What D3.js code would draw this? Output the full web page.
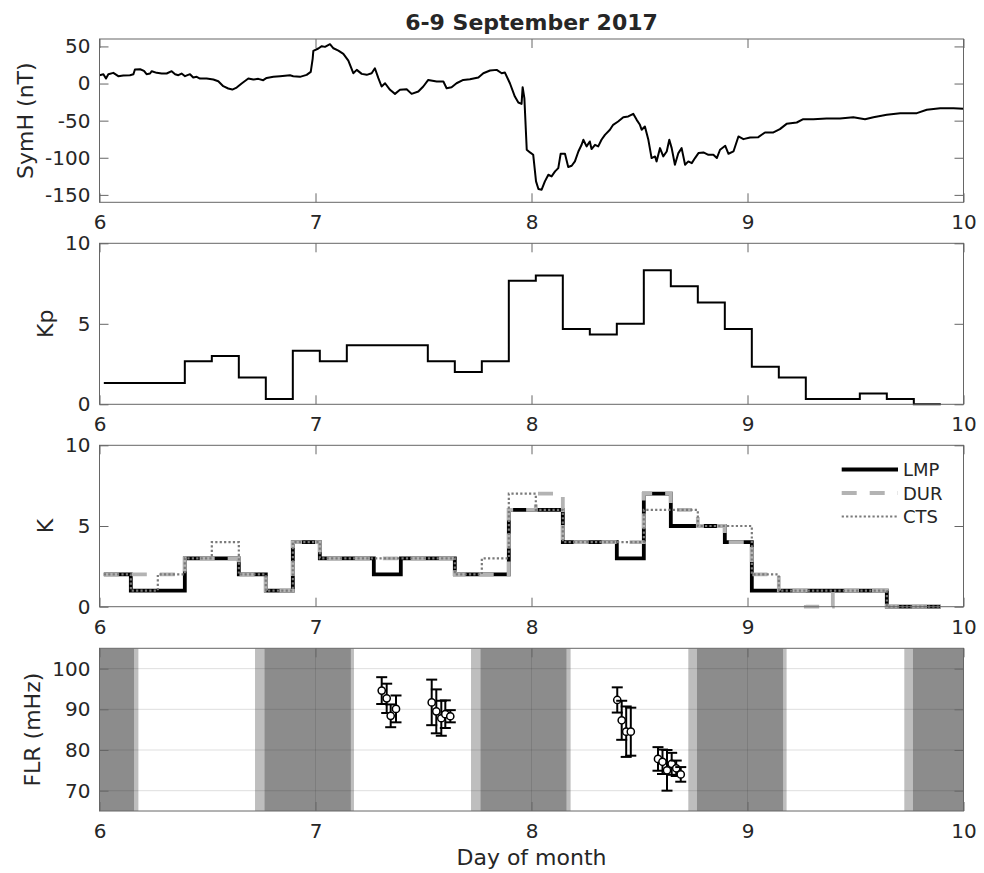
<!DOCTYPE html>
<html>
<head>
<meta charset="utf-8">
<script src="https://cdn.jsdelivr.net/npm/d3@7"></script>
<style>
  body { margin: 0; background: #fff; }
  svg text { font-family: "DejaVu Sans", sans-serif; fill: #262626; }
</style>
</head>
<body>
<svg id="chart" width="984" height="873"></svg>
<script>
// ---------- data ----------
const dayTicks = [6, 7, 8, 9, 10];

// SYM-H index (nT), 6-9 September 2017
const symhDay = [6.000, 6.018, 6.030, 6.041, 6.064, 6.087, 6.110, 6.141, 6.157, 6.164, 6.188, 6.206, 6.218, 6.234, 6.242,
  6.265, 6.288, 6.311, 6.334, 6.350, 6.365, 6.380, 6.396, 6.419, 6.434, 6.450, 6.465, 6.496, 6.527, 6.550, 6.573, 6.596,
  6.615, 6.635, 6.658, 6.689, 6.712, 6.735, 6.758, 6.774, 6.805, 6.836, 6.882, 6.897, 6.928, 6.959, 6.978, 6.987, 6.990,
  7.013, 7.029, 7.044, 7.067, 7.083, 7.106, 7.129, 7.152, 7.175, 7.191, 7.214, 7.237, 7.260, 7.275, 7.291, 7.306, 7.322,
  7.345, 7.368, 7.391, 7.422, 7.445, 7.476, 7.499, 7.522, 7.561, 7.592, 7.607, 7.630, 7.653, 7.684, 7.715, 7.754, 7.777,
  7.808, 7.839, 7.862, 7.877, 7.900, 7.923, 7.939, 7.954, 7.959, 7.967, 7.978, 7.993, 8.008, 8.021, 8.032, 8.047, 8.062,
  8.078, 8.093, 8.109, 8.124, 8.135, 8.155, 8.170, 8.186, 8.201, 8.217, 8.232, 8.240, 8.255, 8.270, 8.278, 8.294, 8.309,
  8.324, 8.340, 8.363, 8.378, 8.401, 8.425, 8.448, 8.471, 8.487, 8.502, 8.510, 8.525, 8.541, 8.556, 8.572, 8.579, 8.595,
  8.610, 8.626, 8.638, 8.649, 8.664, 8.680, 8.695, 8.711, 8.726, 8.742, 8.757, 8.773, 8.796, 8.819, 8.842, 8.858, 8.873,
  8.897, 8.912, 8.935, 8.958, 8.981, 9.012, 9.050, 9.081, 9.120, 9.150, 9.181, 9.228, 9.258, 9.305, 9.366, 9.428, 9.490,
  9.544, 9.583, 9.645, 9.707, 9.784, 9.830, 9.892, 9.954, 10.000];
const symhNT = [11.2, 12.6, 6.7, 12.6, 14.4, 9.9, 10.8, 11.2, 12.6, 18.9, 19.3, 17.1, 12.6, 13.5, 16.6,
  14.4, 13.5, 13.5, 16.6, 12.6, 11.2, 13.5, 9.9, 12.6, 8.1, 9.0, 6.7, 6.7, 5.4, 3.1, -3.6, -6.7,
  -8.1, -5.4, 0.0, 6.7, 5.4, 6.3, 4.5, 7.6, 9.0, 9.9, 11.2, 9.9, 9.0, 11.7, 15.7, 33.7, 44.0,
  47.2, 50.3, 49.4, 53.0, 47.5, 44.4, 39.9, 30.9, 13.9, 18.4, 13.0, 11.7, 13.9, 20.6, 7.2, -4.0, 0.4,
  -8.5, -13.9, -8.5, -7.6, -13.9, -10.8, -4.0, 4.9, 2.7, 2.7, -6.3, -4.9, 0.4, 4.9, 5.8, 8.1, 13.9,
  17.5, 18.4, 13.9, 14.8, 0.4, -17.5, -25.6, -27.4, -4.9, -19.7, -89.2, -92.8, -96.0, -131.8, -142.1, -143.0, -131.8,
  -122.9, -125.1, -118.4, -113.9, -94.6, -94.6, -112.5, -110.8, -104.9, -91.5, -82.5, -75.8, -84.7, -78.0, -88.3, -82.5, -84.7,
  -75.8, -69.1, -62.3, -55.6, -51.1, -45.3, -44.4, -40.8, -48.9, -55.6, -62.3, -57.8, -75.8, -100.4, -98.2, -104.9, -87.0,
  -98.2, -91.5, -75.8, -87.0, -109.4, -93.7, -87.0, -109.4, -104.9, -107.2, -100.4, -93.7, -92.8, -96.0, -96.0, -100.4, -89.2,
  -83.9, -94.6, -91.5, -71.3, -74.9, -72.6, -72.2, -65.9, -65.9, -61.4, -54.3, -52.5, -48.0, -48.0, -47.1, -47.1, -45.3,
  -48.0, -45.3, -42.2, -39.9, -39.9, -35.4, -33.2, -33.2, -34.1];
const symhTicks = [-150, -100, -50, 0, 50];

// 3-hour interval edges (day of month) shared by Kp and local K
const stepEdges = [6.02, 6.145, 6.27, 6.395, 6.52, 6.645, 6.77, 6.895, 7.02, 7.145, 7.27, 7.395, 7.52, 7.645, 7.77, 7.895,
  8.02, 8.145, 8.27, 8.395, 8.52, 8.645, 8.77, 8.895, 9.02, 9.145, 9.27, 9.395, 9.52, 9.645, 9.77, 9.895];

// planetary Kp
const kpIndex = [1.33, 1.33, 1.33, 2.67, 3.0, 1.67, 0.33, 3.33, 2.67, 3.67, 3.67, 3.67, 2.67, 2.0, 2.67, 7.67,
  8.0, 4.67, 4.33, 5.0, 8.33, 7.33, 6.33, 4.67, 2.33, 1.67, 0.33, 0.33, 0.67, 0.33, 0.0];
const kpTicks = [0, 5, 10];

// local K indices
const kStations = ["LMP", "DUR", "CTS"];
const kLMP = [2, 1, 1, 3, 3, 2, 1, 4, 3, 3, 2, 3, 3, 2, 2, 6, 6, 4, 4, 3, 7, 5, 5, 4, 1, 1, 1, 1, 1, 0, 0];
const kDUR = [2, 2, 2, 3, 3, 2, 1, 4, 3, 3, 3, 3, 3, 2, 2, 6, 7, 4, 4, 4, 7, 6, 5, 4, 2, 1, 0, 1, 1, 0, 0];
const kCTS = [2, 1, 2, 3, 4, 2, 1, 4, 3, 3, 3, 3, 3, 2, 3, 7, 6, 4, 4, 4, 6, 6, 5, 5, 2, 1, 1, 1, 1, 0, 0];
const kTicks = [0, 5, 10];

// field line resonance frequencies (mHz) with uncertainties
const flrDay = [7.3065, 7.3296, 7.3481, 7.3727, 7.538, 7.5593, 7.5824, 7.601, 7.624,
  8.397, 8.4176, 8.4384, 8.4597, 8.5856, 8.6065, 8.6273, 8.649, 8.670, 8.691];
const flrFreq = [94.6, 92.7, 88.4, 90.1, 91.7, 89.5, 87.8, 88.8, 88.3,
  92.3, 87.3, 84.5, 84.5, 77.8, 77.1, 75.0, 76.6, 75.5, 74.0];
const flrErr = [3.3, 3.6, 2.8, 3.3, 5.6, 5.4, 4.3, 3.4, 1.5,
  3.1, 4.8, 6.2, 5.9, 2.9, 3.0, 5.0, 2.7, 1.9, 1.8];
const flrTicks = [70, 80, 90, 100];

// night and twilight intervals at the station (day of month)
const nightStart = [6.0, 6.763, 7.763, 8.765, 9.765];
const nightEnd = [6.16, 7.164, 8.163, 9.166, 10.0];
const twilightStart = [6.16, 6.72, 7.164, 7.72, 8.163, 8.726, 9.166, 9.726];
const twilightEnd = [6.18, 6.763, 7.178, 7.763, 8.181, 8.765, 9.181, 9.765];

// ---------- layout ----------
const svg = d3.select("#chart");
const x = d3.scaleLinear().domain([6, 10]).range([99.5, 963.5]);
const frameColor = "#666";
const fmt = d => String(d);

function makePanel(top, bottom, domain, ticks, label) {
  const y = d3.scaleLinear().domain(domain).range([bottom, top]);
  const g = svg.append("g");
  const back = g.append("g");
  const plot = g.append("g");
  const axes = g.append("g");

  const styleAxis = sel => {
    sel.select(".domain").remove();
    sel.selectAll(".tick line").attr("stroke", frameColor);
    sel.selectAll(".tick text").style("font-size", "20px").attr("fill", "#262626");
  };
  axes.append("g").attr("transform", `translate(0,${bottom})`)
    .call(d3.axisBottom(x).tickValues(dayTicks).tickFormat(fmt).tickSizeInner(-9).tickSizeOuter(0).tickPadding(13))
    .call(styleAxis);
  axes.append("g").attr("transform", `translate(0,${top})`)
    .call(d3.axisTop(x).tickValues(dayTicks).tickFormat("").tickSizeInner(-9).tickSizeOuter(0))
    .call(styleAxis);
  const yl = axes.append("g").attr("transform", `translate(${x.range()[0]},0)`)
    .call(d3.axisLeft(y).tickValues(ticks).tickFormat(fmt).tickSizeInner(-9).tickSizeOuter(0).tickPadding(9))
    .call(styleAxis);
  axes.append("g").attr("transform", `translate(${x.range()[1]},0)`)
    .call(d3.axisRight(y).tickValues(ticks).tickFormat("").tickSizeInner(-9).tickSizeOuter(0))
    .call(styleAxis);

  axes.append("rect")
    .attr("x", x.range()[0]).attr("y", top)
    .attr("width", x.range()[1] - x.range()[0]).attr("height", bottom - top)
    .attr("fill", "none").attr("stroke", frameColor).attr("stroke-width", 1);

  // y label placed just left of the widest tick label
  let maxW = 0;
  yl.selectAll(".tick text").each(function () { maxW = Math.max(maxW, this.getComputedTextLength()); });
  const lx = x.range()[0] - 9 - maxW - 12;
  axes.append("text")
    .attr("transform", `translate(${lx},${(top + bottom) / 2}) rotate(-90)`)
    .attr("text-anchor", "middle")
    .style("font-size", "22px")
    .text(label);

  return { y, back, plot, top, bottom };
}

const p1 = makePanel(39, 202.3, [-160, 60], symhTicks, "SymH (nT)");
const p2 = makePanel(243.3, 404.3, [0, 10], kpTicks, "Kp");
const p3 = makePanel(445.3, 606.7, [0, 10], kTicks, "K");
const p4 = makePanel(648.3, 811, [65, 105], flrTicks, "FLR (mHz)");

// title and x label
svg.append("text").attr("x", 531.5).attr("y", 30).attr("text-anchor", "middle")
  .style("font-size", "22px").style("font-weight", "bold").text("6-9 September 2017");
svg.append("text").attr("x", 531.5).attr("y", 865).attr("text-anchor", "middle")
  .style("font-size", "22px").text("Day of month");

// ---------- SymH ----------
const symhPts = symhDay.map((d, i) => [d, symhNT[i]]);
p1.plot.append("path")
  .attr("d", d3.line().x(d => x(d[0])).y(d => p1.y(d[1]))(symhPts))
  .attr("fill", "none").attr("stroke", "#000").attr("stroke-width", 2)
  .attr("stroke-linejoin", "round");

// ---------- stairs helper ----------
function stairs(vals) {
  const pts = vals.map((v, i) => [stepEdges[i], v]);
  pts.push([stepEdges[vals.length], vals[vals.length - 1]]);
  return pts;
}

// ---------- Kp ----------
p2.plot.append("path")
  .attr("d", d3.line().x(d => x(d[0])).y(d => p2.y(d[1])).curve(d3.curveStepAfter)(stairs(kpIndex)))
  .attr("fill", "none").attr("stroke", "#000").attr("stroke-width", 2);

// ---------- local K ----------
const kSeries = [
  { name: kStations[0], vals: kLMP, color: "#000", width: 3.8, dash: null },
  { name: kStations[1], vals: kDUR, color: "#b3b3b3", width: 3.8, dash: "15,13" },
  { name: kStations[2], vals: kCTS, color: "#7a7a7a", width: 2.2, dash: "2.2,2.2" }
];
const kLine = d3.line().x(d => x(d[0])).y(d => p3.y(d[1])).curve(d3.curveStepAfter);
kSeries.forEach(s => {
  p3.plot.append("path")
    .attr("d", kLine(stairs(s.vals)))
    .attr("fill", "none").attr("stroke", s.color).attr("stroke-width", s.width)
    .attr("stroke-dasharray", s.dash);
});
// legend
const legY = [469.5, 493, 516.5];
kSeries.forEach((s, i) => {
  p3.plot.append("line")
    .attr("x1", 841.7).attr("x2", 898).attr("y1", legY[i]).attr("y2", legY[i])
    .attr("stroke", s.color).attr("stroke-width", s.width).attr("stroke-dasharray", s.dash);
  p3.plot.append("text")
    .attr("x", 903).attr("y", legY[i] + 6.5)
    .style("font-size", "18px").text(s.name);
});

// ---------- FLR ----------
const xr = x.range();
const clipId = "flrclip";
svg.append("defs").append("clipPath").attr("id", clipId).append("rect")
  .attr("x", xr[0]).attr("y", p4.top).attr("width", xr[1] - xr[0]).attr("height", p4.bottom - p4.top);
p4.back.attr("clip-path", `url(#${clipId})`);
twilightStart.forEach((s, i) => {
  p4.back.append("rect").attr("x", x(s)).attr("y", p4.top)
    .attr("width", x(twilightEnd[i]) - x(s)).attr("height", p4.bottom - p4.top)
    .attr("fill", "#bebebe");
});
nightStart.forEach((s, i) => {
  p4.back.append("rect").attr("x", x(s)).attr("y", p4.top)
    .attr("width", x(nightEnd[i]) - x(s)).attr("height", p4.bottom - p4.top)
    .attr("fill", "#8c8c8c");
});
// grid
flrTicks.forEach(t => {
  p4.back.append("line").attr("x1", xr[0]).attr("x2", xr[1]).attr("y1", p4.y(t)).attr("y2", p4.y(t))
    .attr("stroke", "#262626").attr("stroke-opacity", 0.15).attr("stroke-width", 1);
});
dayTicks.slice(1, -1).forEach(t => {
  p4.back.append("line").attr("x1", x(t)).attr("x2", x(t)).attr("y1", p4.top).attr("y2", p4.bottom)
    .attr("stroke", "#262626").attr("stroke-opacity", 0.15).attr("stroke-width", 1);
});
// error bars with markers
flrDay.forEach((d, i) => {
  const cx = x(d), yc = p4.y(flrFreq[i]);
  const y1 = p4.y(flrFreq[i] + flrErr[i]), y2 = p4.y(flrFreq[i] - flrErr[i]);
  const eg = p4.plot.append("g").attr("stroke", "#000").attr("stroke-width", 2);
  eg.append("line").attr("x1", cx).attr("x2", cx).attr("y1", y1).attr("y2", y2);
  eg.append("line").attr("x1", cx - 5.5).attr("x2", cx + 5.5).attr("y1", y1).attr("y2", y1);
  eg.append("line").attr("x1", cx - 5.5).attr("x2", cx + 5.5).attr("y1", y2).attr("y2", y2);
  p4.plot.append("circle").attr("cx", cx).attr("cy", yc).attr("r", 3.6)
    .attr("fill", "#fff").attr("stroke", "#000").attr("stroke-width", 1.5);
});
</script>
</body>
</html>
